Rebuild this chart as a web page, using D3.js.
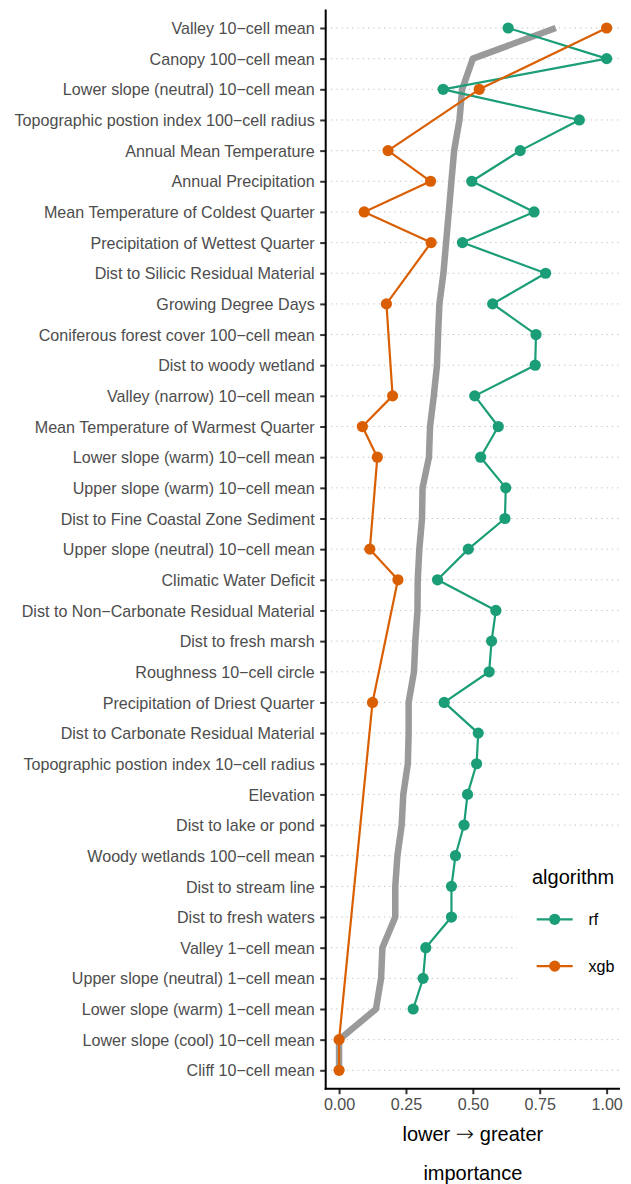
<!DOCTYPE html>
<html lang="en">
<head>
<meta charset="UTF-8">
<title>Variable importance</title>
<script src="https://d3js.org/d3.v7.min.js"></script>
<style>
    body, html { margin: 0; padding: 0; background: #fff; }
    svg text { font-family: "Liberation Sans", Arial, sans-serif; }
</style>
</head>
<body>
<div id="chart"></div>
<script>
// variables, top to bottom
const variables = [
    "Valley 10\u2212cell mean",
    "Canopy 100\u2212cell mean",
    "Lower slope (neutral) 10\u2212cell mean",
    "Topographic postion index 100\u2212cell radius",
    "Annual Mean Temperature",
    "Annual Precipitation",
    "Mean Temperature of Coldest Quarter",
    "Precipitation of Wettest Quarter",
    "Dist to Silicic Residual Material",
    "Growing Degree Days",
    "Coniferous forest cover 100\u2212cell mean",
    "Dist to woody wetland",
    "Valley (narrow) 10\u2212cell mean",
    "Mean Temperature of Warmest Quarter",
    "Lower slope (warm) 10\u2212cell mean",
    "Upper slope (warm) 10\u2212cell mean",
    "Dist to Fine Coastal Zone Sediment",
    "Upper slope (neutral) 10\u2212cell mean",
    "Climatic Water Deficit",
    "Dist to Non\u2212Carbonate Residual Material",
    "Dist to fresh marsh",
    "Roughness 10\u2212cell circle",
    "Precipitation of Driest Quarter",
    "Dist to Carbonate Residual Material",
    "Topographic postion index 10\u2212cell radius",
    "Elevation",
    "Dist to lake or pond",
    "Woody wetlands 100\u2212cell mean",
    "Dist to stream line",
    "Dist to fresh waters",
    "Valley 1\u2212cell mean",
    "Upper slope (neutral) 1\u2212cell mean",
    "Lower slope (warm) 1\u2212cell mean",
    "Lower slope (cool) 10\u2212cell mean",
    "Cliff 10\u2212cell mean"
];

// random forest importance (null = not reported)
const rfValues = [0.632, 1.0, 0.389, 0.898, 0.677, 0.496, 0.729, 0.461, 0.772, 0.574,
    0.736, 0.733, 0.507, 0.595, 0.529, 0.623, 0.620, 0.483, 0.368, 0.586,
    0.570, 0.561, 0.393, 0.520, 0.514, 0.480, 0.467, 0.435, 0.420, 0.420,
    0.324, 0.314, 0.277, null, null];

// xgboost importance (null = not reported)
const xgbValues = [1.0, null, 0.524, null, 0.183, 0.342, 0.094, 0.344, null, 0.177,
    null, null, 0.200, 0.087, 0.143, null, null, 0.115, 0.220, null,
    null, null, 0.125, null, null, null, null, null, null, null,
    null, null, null, 0.0, 0.0];

// overall (grey) importance line
const meanValues = [0.81, 0.50, 0.46, 0.45, 0.43, 0.42, 0.41, 0.40, 0.39, 0.375,
    0.37, 0.366, 0.354, 0.34, 0.336, 0.312, 0.31, 0.30, 0.294, 0.293,
    0.285, 0.28, 0.26, 0.26, 0.257, 0.24, 0.234, 0.218, 0.21, 0.21,
    0.162, 0.157, 0.138, 0.0, 0.0];

const xTicks = [0, 0.25, 0.5, 0.75, 1];
const algorithms = ["rf", "xgb"];
const algoColors = ["#1B9E77", "#D95F02"];

const width = 631, height = 1184;
const panel = { left: 325.7, right: 620, top: 9.6, bottom: 1088.7 };

const svg = d3.select("#chart").append("svg")
    .attr("width", width)
    .attr("height", height);

const x = d3.scaleLinear()
    .domain([-0.05, 1.05])
    .range([panel.left, panel.right]);

const y = d3.scalePoint()
    .domain(variables)
    .range([panel.top, panel.bottom])
    .padding(0.6);

const color = d3.scaleOrdinal().domain(algorithms).range(algoColors);

// dotted horizontal grid
svg.append("g")
    .selectAll("line")
    .data(variables)
    .join("line")
    .attr("x1", panel.left)
    .attr("x2", panel.right)
    .attr("y1", d => y(d))
    .attr("y2", d => y(d))
    .attr("stroke", "#bdbdbd")
    .attr("stroke-width", 1)
    .attr("stroke-dasharray", "1.2,4.1");

const line = d3.line()
    .x(d => x(d.v))
    .y(d => y(d.name));

// grey overall line
const meanData = variables.map((name, i) => ({ name, v: meanValues[i] }));
svg.append("path")
    .datum(meanData)
    .attr("d", line)
    .attr("fill", "none")
    .attr("stroke", "#9a9a9a")
    .attr("stroke-width", 6.5)
    .attr("stroke-linejoin", "round");

const series = [
    { key: "rf", values: rfValues },
    { key: "xgb", values: xgbValues }
].map(s => ({
    key: s.key,
    points: variables.map((name, i) => ({ name, v: s.values[i] })).filter(d => d.v !== null)
}));

series.forEach(s => {
    svg.append("path")
        .datum(s.points)
        .attr("d", line)
        .attr("fill", "none")
        .attr("stroke", color(s.key))
        .attr("stroke-width", 2.2)
        .attr("stroke-linejoin", "round");
});

series.forEach(s => {
    svg.append("g")
        .selectAll("circle")
        .data(s.points)
        .join("circle")
        .attr("cx", d => x(d.v))
        .attr("cy", d => y(d.name))
        .attr("r", 5.6)
        .attr("fill", color(s.key));
});

// y axis
const yAxis = svg.append("g")
    .attr("transform", `translate(${panel.left},0)`)
    .call(d3.axisLeft(y).tickSize(5.5).tickPadding(5.5));
yAxis.select(".domain").remove();
yAxis.selectAll(".tick line").attr("stroke", "#333").attr("stroke-width", 2);
yAxis.selectAll(".tick text")
    .attr("fill", "#4D4D4D")
    .style("font-size", "16.1px")
    .attr("dy", "0.35em");

// x axis
const xAxis = svg.append("g")
    .attr("transform", `translate(0,${panel.bottom})`)
    .call(d3.axisBottom(x).tickValues(xTicks).tickFormat(d3.format(".2f")).tickSize(5.5).tickPadding(4));
xAxis.select(".domain").remove();
xAxis.selectAll(".tick line").attr("stroke", "#333").attr("stroke-width", 2);
xAxis.selectAll(".tick text")
    .attr("fill", "#4D4D4D")
    .style("font-size", "16.1px");

// axis lines
svg.append("line")
    .attr("x1", panel.left).attr("x2", panel.left)
    .attr("y1", panel.top).attr("y2", panel.bottom + 1)
    .attr("stroke", "#000").attr("stroke-width", 2);
svg.append("line")
    .attr("x1", panel.left - 1).attr("x2", panel.right)
    .attr("y1", panel.bottom).attr("y2", panel.bottom)
    .attr("stroke", "#000").attr("stroke-width", 2);

// axis titles
const xMid = (panel.left + panel.right) / 2;
const xTitle = svg.append("text")
    .attr("x", xMid).attr("y", 1140.5)
    .attr("text-anchor", "middle")
    .style("font-size", "20px");
xTitle.append("tspan").text("lower ");
xTitle.append("tspan")
    .style("font-family", "'DejaVu Sans'")
    .style("font-size", "22px")
    .style("font-weight", "200")
    .text("\u2192");
xTitle.append("tspan").text(" greater");
svg.append("text")
    .attr("x", xMid).attr("y", 1179.5)
    .attr("text-anchor", "middle")
    .style("font-size", "20px")
    .text("importance");

// legend
const legend = svg.append("g");
legend.append("rect")
    .attr("x", 517).attr("y", 842)
    .attr("width", width - 517).attr("height", 150)
    .attr("fill", "#fff");
legend.append("text")
    .attr("x", 532).attr("y", 883.5)
    .style("font-size", "20px")
    .text("algorithm");

const keys = legend.selectAll("g.key")
    .data(algorithms)
    .join("g")
    .attr("class", "key")
    .attr("transform", (d, i) => `translate(0,${919.3 + i * 46.8})`);
keys.append("line")
    .attr("x1", 536.7).attr("x2", 572.7)
    .attr("stroke", d => color(d))
    .attr("stroke-width", 2.2);
keys.append("circle")
    .attr("cx", 554.7).attr("r", 5.6)
    .attr("fill", d => color(d));
keys.append("text")
    .attr("x", 588.5).attr("dy", "0.35em")
    .style("font-size", "16.1px")
    .text(d => d);
</script>
</body>
</html>
